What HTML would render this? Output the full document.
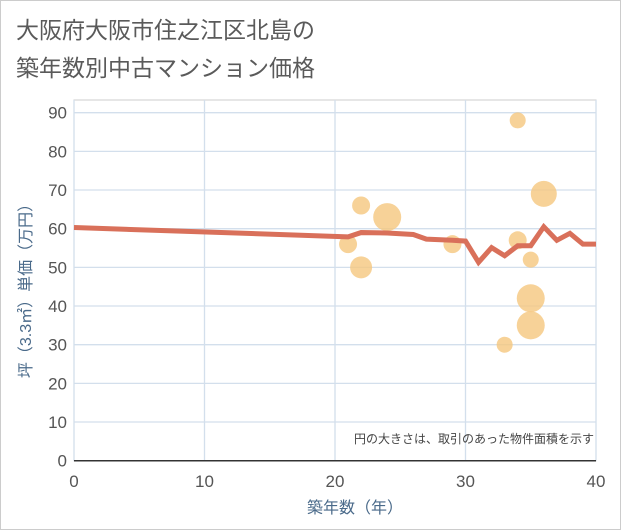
<!DOCTYPE html>
<html><head><meta charset="utf-8"><style>
body{margin:0;background:#fff;}
#wrap{width:619px;height:528px;border:1px solid #ccc;position:relative;font-family:"Liberation Sans","Noto Sans CJK JP",sans-serif;}
</style></head><body>
<div id="wrap">
<svg id="chart" width="621" height="530" style="position:absolute;left:-1px;top:-1px">
<text x="16" y="38" font-size="23" fill="#5a5a5a" font-family="Liberation Sans, Noto Sans CJK JP, sans-serif">大阪府大阪市住之江区北島の</text>
<text x="16" y="76" font-size="23" fill="#5a5a5a" font-family="Liberation Sans, Noto Sans CJK JP, sans-serif">築年数別中古マンション価格</text>
<g id="grid"></g><g id="bubbles"></g><g id="line"></g><g id="axes"></g>
<text x="594" y="443" font-size="12" fill="#444" text-anchor="end" font-family="Liberation Sans, Noto Sans CJK JP, sans-serif">円の大きさは、取引のあった物件面積を示す</text>
<text x="355" y="513" font-size="16" fill="#4a6a8a" text-anchor="middle" font-family="Liberation Sans, Noto Sans CJK JP, sans-serif">築年数（年）</text>
<text transform="translate(31,287) rotate(-90)" font-size="16" fill="#4a6a8a" text-anchor="middle" font-family="Liberation Sans, Noto Sans CJK JP, sans-serif">坪（3.3㎡）単価（万円）</text>
</svg>
</div>
<script>
const xTicks=[0,10,20,30,40];
const yTicks=[0,10,20,30,40,50,60,70,80,90];
const lineYears=[0,21,22,24,26,27,29,30,31,32,33,34,35,36,37,38,39,40];
const linePrices=[60.3,57.9,59.0,58.9,58.5,57.3,57.0,56.8,51.3,55.1,53.0,55.6,55.6,60.5,57.0,58.8,56.0,56.0];
const bubbleYears=[21,22,22,24,29,34,34,35,36,35,35,33];
const bubblePrices=[56,66,50,63,56,88,57,52,69,42,35,30];
const bubbleSizes=[9,9,11,14,9,8,9,8,13,14,14,8];
const X0=74,X1=596,Y0=460.7,YT=112.7;
const sx=v=>X0+(X1-X0)*v/40;
const sy=v=>Y0-(Y0-YT)*v/90;
const NS="http://www.w3.org/2000/svg";
function mk(tag,parent,attrs){const e=document.createElementNS(NS,tag);for(const k in attrs)e.setAttribute(k,attrs[k]);parent.appendChild(e);return e;}
const grid=document.getElementById('grid'),axes=document.getElementById('axes');
mk('rect',grid,{x:X0,y:100,width:X1-X0,height:Y0-100,fill:'#fff',stroke:'#ccc'});
yTicks.forEach(t=>{
 const l=mk('line',grid,{x1:X0,x2:X1,y1:sy(t),y2:sy(t),stroke:'#d3dfec','stroke-width':1.3});
 
 
 const tx=mk('text',axes,{x:67,y:sy(t)+6,'font-size':17,fill:'#555','text-anchor':'end'});
 tx.textContent=t;
 
 
});
xTicks.forEach(t=>{
 const l=mk('line',grid,{x1:sx(t),x2:sx(t),y1:100,y2:Y0,stroke:'#d3dfec','stroke-width':1.3});
 
 
 const tx=mk('text',axes,{x:sx(t),y:487,'font-size':17,fill:'#555','text-anchor':'middle'});
 tx.textContent=t;
 
 
});
const bl=mk('line',axes,{x1:X0,x2:X1,y1:Y0,y2:Y0,stroke:'#333','stroke-width':1.5});


const bg=document.getElementById('bubbles');
bubbleYears.forEach((y,i)=>{
 const c=mk('circle',bg,{cx:sx(y),cy:sy(bubblePrices[i]),r:bubbleSizes[i],fill:'#f5c77e','fill-opacity':0.8});
 
 
});
const pts=lineYears.map((y,i)=>sx(y)+','+sy(linePrices[i])).join(' ');
const pl=mk('polyline',document.getElementById('line'),{points:pts,fill:'none',stroke:'#d9705a','stroke-width':5,'stroke-linejoin':'miter'});


</script>
</body></html>
